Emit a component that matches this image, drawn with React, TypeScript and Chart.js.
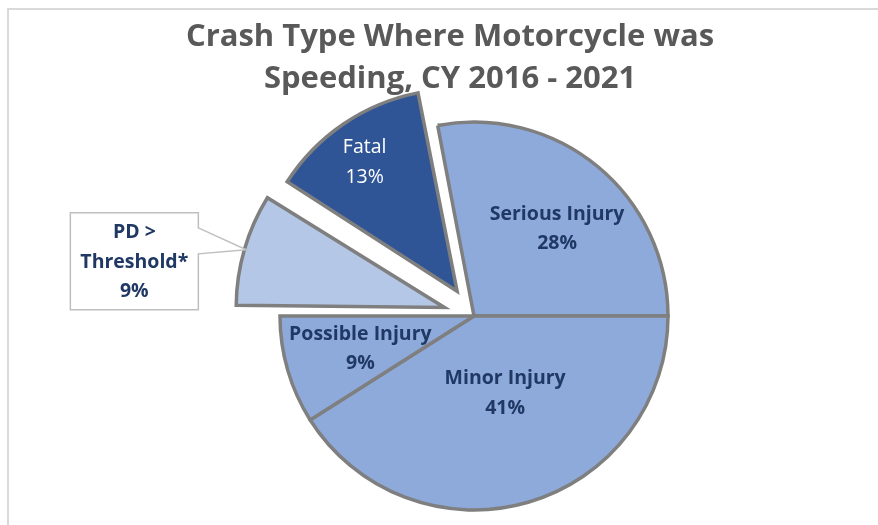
import React, { useEffect, useRef } from "react";
import { Chart, registerables } from "chart.js";

Chart.register(...registerables);

// ---- data ----
const categories = ["Serious Injury", "Minor Injury", "Possible Injury", "PD > Threshold*", "Fatal"];
const shares = [28, 41, 9, 9, 13];
const percentLabels = ["28%", "41%", "9%", "9%", "13%"];
const labelLines = [["Serious Injury"], ["Minor Injury"], ["Possible Injury"], ["PD >", "Threshold*"], ["Fatal"]];
const titleLines = ["Crash Type Where Motorcycle was", "Speeding, CY 2016 - 2021"];

// ---- styles ----
const sliceColors = ["#8eaadb", "#8eaadb", "#8eaadb", "#b4c7e7", "#2f5597"];
const sliceOffsets = [0, 0, 0, 123, 120];
const labelColors = ["#1f3864", "#1f3864", "#1f3864", "#1f3864", "#ffffff"];
const labelWeights = ["bold", "bold", "bold", "bold", "normal"];
// label placement: fraction of radius and angle tweak (deg); callout for index 3
const labelFrac = [0.62, 0.43, 0.61, 0.99, 0.775];
const labelDAngle = [4.1, -5.7, 0, 0, -1.6];
const FONT = "'Open Sans', Lato, sans-serif";

const overlayPlugin = {
  id: "overlay",
  beforeDraw(chart: any) {
    const ctx = chart.ctx;
    ctx.save();
    ctx.fillStyle = "#ffffff";
    ctx.fillRect(0, 0, chart.width, chart.height);
    ctx.strokeStyle = "#d9d9d9";
    ctx.lineWidth = 2;
    ctx.beginPath();
    ctx.moveTo(8, chart.height);
    ctx.lineTo(8, 9);
    ctx.lineTo(chart.width, 9);
    ctx.stroke();
    // title
    ctx.fillStyle = "#595959";
    ctx.font = `bold 31px ${FONT}`;
    ctx.textAlign = "center";
    ctx.textBaseline = "alphabetic";
    ctx.fillText(titleLines[0], 450, 46);
    ctx.fillText(titleLines[1], 450, 88);
    ctx.restore();
  },
  afterDatasetsDraw(chart: any) {
    const ctx = chart.ctx;
    const meta = chart.getDatasetMeta(0);
    ctx.save();
    ctx.textAlign = "center";
    ctx.textBaseline = "middle";
    meta.data.forEach((arc: any, i: number) => {
      const p = arc.getProps(["x", "y", "startAngle", "endAngle", "outerRadius"], true);
      const mid = (p.startAngle + p.endAngle) / 2;
      const circ = p.endAngle - p.startAngle;
      const off = (sliceOffsets[i] || 0) / 4;
      const fix = 1 - Math.sin(Math.min(Math.PI, circ));
      const shift = off + off * fix;
      const cx = p.x + Math.cos(mid) * shift;
      const cy = p.y + Math.sin(mid) * shift;
      const a = mid + (labelDAngle[i] * Math.PI) / 180;
      const lx = cx + Math.cos(a) * p.outerRadius * labelFrac[i];
      const ly = cy + Math.sin(a) * p.outerRadius * labelFrac[i];
      const lines = [...labelLines[i], percentLabels[i]];
      const lh = 29.5;
      ctx.font = `${labelWeights[i]} 19.5px ${FONT}`;
      ctx.fillStyle = labelColors[i];
      if (i === 3) {
        // callout box
        const bw = 128, bh = 97;
        const right = lx - 48;
        const left = right - bw;
        const top = ly - 37;
        const bottom = top + bh;
        ctx.beginPath();
        ctx.moveTo(left, top);
        ctx.lineTo(right, top);
        ctx.lineTo(right, ly - 22);
        ctx.lineTo(lx, ly);
        ctx.lineTo(right, ly + 4);
        ctx.lineTo(right, bottom);
        ctx.lineTo(left, bottom);
        ctx.closePath();
        ctx.fillStyle = "#ffffff";
        ctx.fill();
        ctx.strokeStyle = "#bfbfbf";
        ctx.lineWidth = 1.5;
        ctx.stroke();
        ctx.fillStyle = labelColors[i];
        const bx = (left + right) / 2;
        const by = (top + bottom) / 2 + 1;
        lines.forEach((t, k) => {
          ctx.fillText(t, bx, by + (k - (lines.length - 1) / 2) * lh);
        });
      } else {
        lines.forEach((t, k) => {
          ctx.fillText(t, lx, ly + (k - (lines.length - 1) / 2) * lh);
        });
      }
    });
    ctx.restore();
  },
};

export default function App() {
  const ref = useRef<HTMLCanvasElement | null>(null);
  useEffect(() => {
    if (!ref.current) return;
    const chart = new Chart(ref.current, {
      type: "pie",
      data: {
        labels: categories,
        datasets: [
          {
            data: shares,
            backgroundColor: sliceColors,
            borderColor: "#7f7f7f",
            borderWidth: 3.5,
            borderJoinStyle: "miter",
            offset: sliceOffsets,
            clip: false,
          } as any,
        ],
      },
      options: {
        animation: false,
        responsive: false,
        rotation: -10.8,
        radius: 194,
        layout: { padding: { left: 90, right: 20, top: 110, bottom: 3 } },
        plugins: { legend: { display: false }, tooltip: { enabled: false }, title: { display: false } },
      } as any,
      plugins: [overlayPlugin],
    });
    return () => chart.destroy();
  }, []);
  return (
    <div style={{ position: "absolute", left: 0, top: 0, width: 878, height: 525 }}>
      <canvas ref={ref} width={878} height={525} style={{ display: "block" }} />
    </div>
  );
}
